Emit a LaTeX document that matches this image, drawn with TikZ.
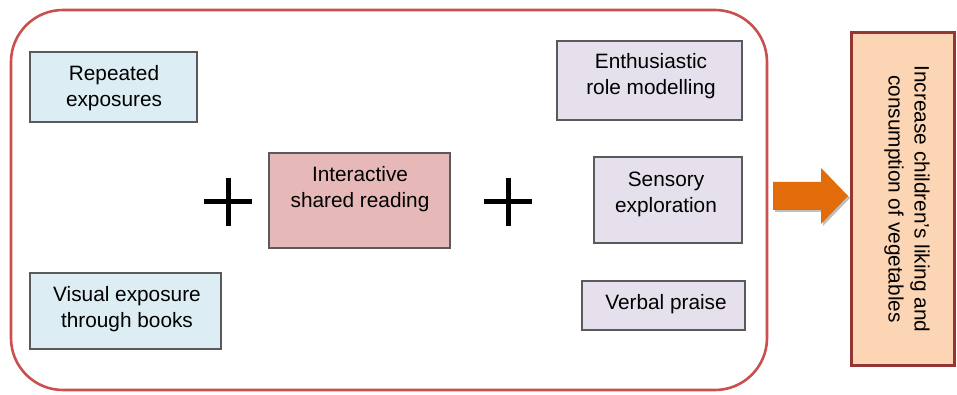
\documentclass[tikz,border=0pt]{standalone}
\usepackage{fontspec}
\setmainfont{Liberation Sans}
\definecolor{frame}{HTML}{C9504D}
\definecolor{bluefill}{HTML}{DCEEF4}
\definecolor{purplefill}{HTML}{E5E0EC}
\definecolor{pinkfill}{HTML}{E6B9B8}
\definecolor{peach}{HTML}{FCD5B5}
\definecolor{darkred}{HTML}{943634}
\definecolor{boxline}{HTML}{5A5A5A}
\definecolor{orangearrow}{HTML}{E36C0A}
\tikzset{
  box/.style={draw=boxline, line width=1.4pt, inner sep=0pt},
  txt/.style={align=center, font=\fontsize{20.8}{26}\selectfont, inner sep=0pt},
  plussign/.style={line width=5pt, black},
}
\begin{document}
\begin{tikzpicture}[x=1pt,y=-1pt]
\useasboundingbox (0,0) rectangle (957,395);
% outer frame
\draw[frame, line width=2.6pt, rounded corners=52pt] (11,10) rectangle (767,390);
% left boxes
\node[box, fill=bluefill, minimum width=167pt, minimum height=70pt] (rep) at (113.5,87) {};
\node[txt] (reptxt) at (114,88) {Repeated\\exposures};
\node[box, fill=bluefill, minimum width=191pt, minimum height=76pt] (vis) at (125.5,311) {};
\node[txt] (vistxt) at (127,309) {Visual exposure\\through books};
% centre box
\node[box, fill=pinkfill, minimum width=181pt, minimum height=95pt] (isr) at (359.5,200.5) {};
\node[txt] (isrtxt) at (360,189) {Interactive\\shared reading};
% right boxes
\node[box, fill=purplefill, minimum width=185pt, minimum height=79pt] (enth) at (649.5,80.5) {};
\node[txt] (enthtxt) at (651,76) {Enthusiastic\\role modelling};
\node[box, fill=purplefill, minimum width=148pt, minimum height=86pt] (sens) at (668,200) {};
\node[txt] (senstxt) at (666,194.5) {Sensory\\exploration};
\node[box, fill=purplefill, minimum width=163pt, minimum height=49pt] (verb) at (663.5,305.5) {};
\node[txt] (verbtxt) at (666,304) {Verbal praise};
% plus signs
\coordinate (p1) at (228,202);
\coordinate (p2) at (508,202);
\draw[plussign] ([xshift=-24pt]p1) -- ([xshift=24pt]p1);
\draw[plussign] ([yshift=-24pt]p1) -- ([yshift=24pt]p1);
\draw[plussign] ([xshift=-24pt]p2) -- ([xshift=24pt]p2);
\draw[plussign] ([yshift=-24pt]p2) -- ([yshift=24pt]p2);
% outcome box
\node[draw=darkred, line width=2.6pt, fill=peach, minimum width=103pt, minimum height=333pt, inner sep=0pt] (out) at (903,199) {};
\node[txt, rotate=-90] (outtxt) at (907,199) {Increase children’s liking and\\consumption of vegetables};
% arrow
\fill[black!25] (775,184) -- (823,184) -- (823,170) -- (850,198) -- (823,226) -- (823,212) -- (775,212) -- cycle;
\fill[orangearrow] (773,182) -- (821,182) -- (821,168) -- (848,196) -- (821,224) -- (821,210) -- (773,210) -- cycle;
\end{tikzpicture}
\end{document}
